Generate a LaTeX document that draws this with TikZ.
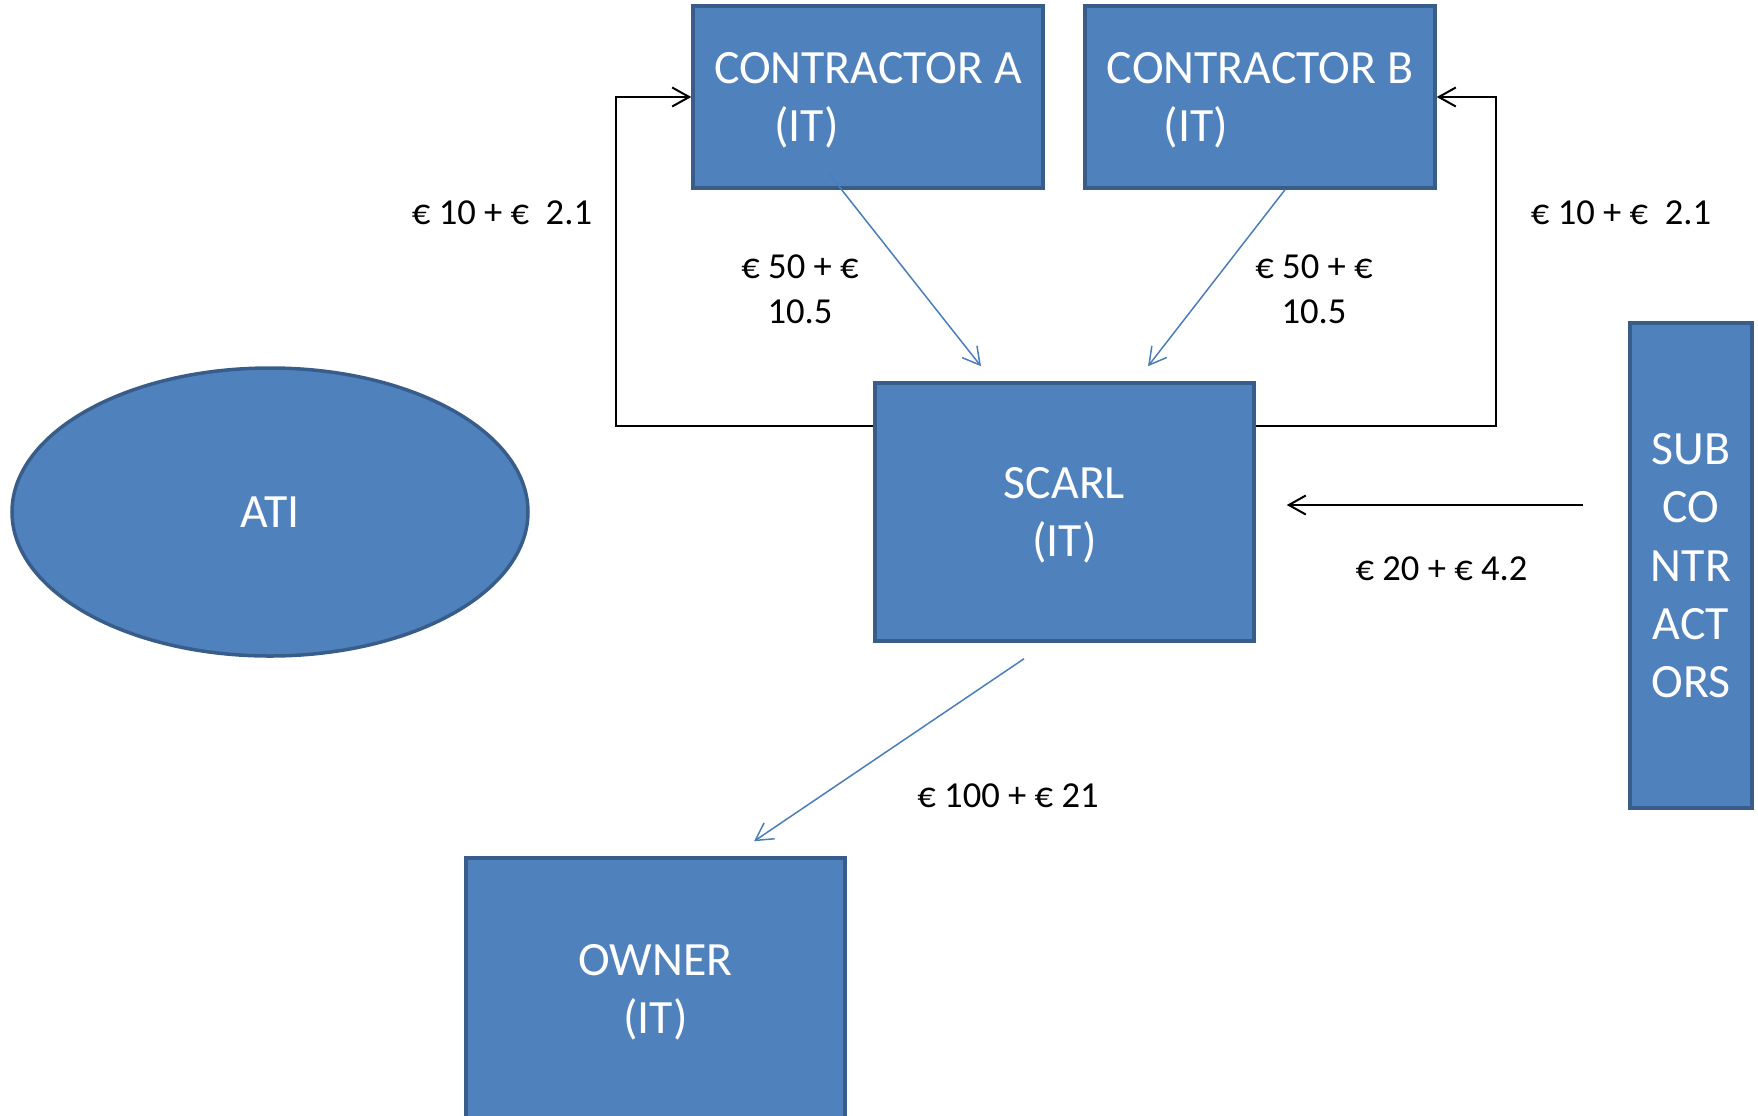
\documentclass[tikz,border=0pt]{standalone}
\usepackage{fontspec}
\setmainfont{Carlito}
\usetikzlibrary{arrows.meta,calc,shapes.geometric}
\definecolor{boxfill}{HTML}{4F81BD}
\definecolor{boxline}{HTML}{385D8A}
\definecolor{flowblue}{HTML}{4A7EBB}

\begin{document}
\begin{tikzpicture}[x=0.5pt,y=-0.5pt,
  party/.style={draw=boxline, fill=boxfill, line width=1.75pt, text=white,
    inner sep=0pt, align=center, text depth=0pt,
    font=\fontsize{23.9pt}{29.2pt}\selectfont},
  tag/.style={inner sep=0pt, align=center, font=\fontsize{18.3pt}{22.5pt}\selectfont},
  payment/.style={draw=black, line width=1pt, -{Straight Barb[length=8.5pt,width=9.5pt]}},
  invoice/.style={draw=flowblue, line width=0.75pt, -{Straight Barb[length=8.5pt,width=9.5pt]}}
]
\useasboundingbox (0,0) rectangle (1758,1115);

% parties
\node[party, align=left, minimum width=175pt, minimum height=91pt] (A) at (868,97)
  {CONTRACTOR A\\\hspace*{1.26em}(IT)};
\node[party, align=left, minimum width=175pt, minimum height=91pt] (B) at (1260,97)
  {CONTRACTOR B\\\hspace*{1.19em}(IT)};
\node[party, minimum width=189.5pt, minimum height=129pt] (SCARL) at (1064.5,512) {SCARL\\(IT)};
\node[party, minimum width=189.5pt, minimum height=131pt] (OWNER) at (655.5,989) {OWNER\\(IT)};
\node[party, minimum width=61pt, minimum height=242.5pt] (SUB) at (1691,565.5) {SUB\\CO\\NTR\\ACT\\ORS};
\node[party, ellipse, minimum width=258pt, minimum height=144pt] (ATI) at (270,512) {ATI};

% payments from SCARL to the contractors
\draw[payment] ($(SCARL.north west)+(0,45)$) -- ++(-257,0) |- (A.west);
\draw[payment] ($(SCARL.north east)+(0,45)$) -- ++(240,0) |- (B.east);

% subcontractors to SCARL
\coordinate (subrow) at (0,505);
\draw[payment, shorten <=22.5pt, shorten >=15.5pt] (SUB.west |- subrow) -- (SCARL.east |- subrow);

% invoices
\draw[invoice] ($(A.south)+(-39,-16)$) -- ($(SCARL.north)+(-83.5,-15)$);
\draw[invoice] ($(B.south)+(25,0)$) -- ($(SCARL.north)+(83.5,-15)$);
\draw[invoice] ($(SCARL.south)+(-40.5,16)$) -- ($(OWNER.north)+(98.5,-15)$);

% amounts
\node[tag] (pA) at (502,213) {€ 10 + €\ \ 2.1};
\node[tag] (pB) at (1621,213) {€ 10 + €\ \ 2.1};
\node[tag] (iA) at (800,289) {€ 50 + €\\10.5};
\node[tag] (iB) at (1314,289) {€ 50 + €\\10.5};
\node[tag] (pS) at (1441.5,569) {€ 20 + € 4.2};
\node[tag] (iO) at (1008,796) {€ 100 + € 21};
\end{tikzpicture}
\end{document}
